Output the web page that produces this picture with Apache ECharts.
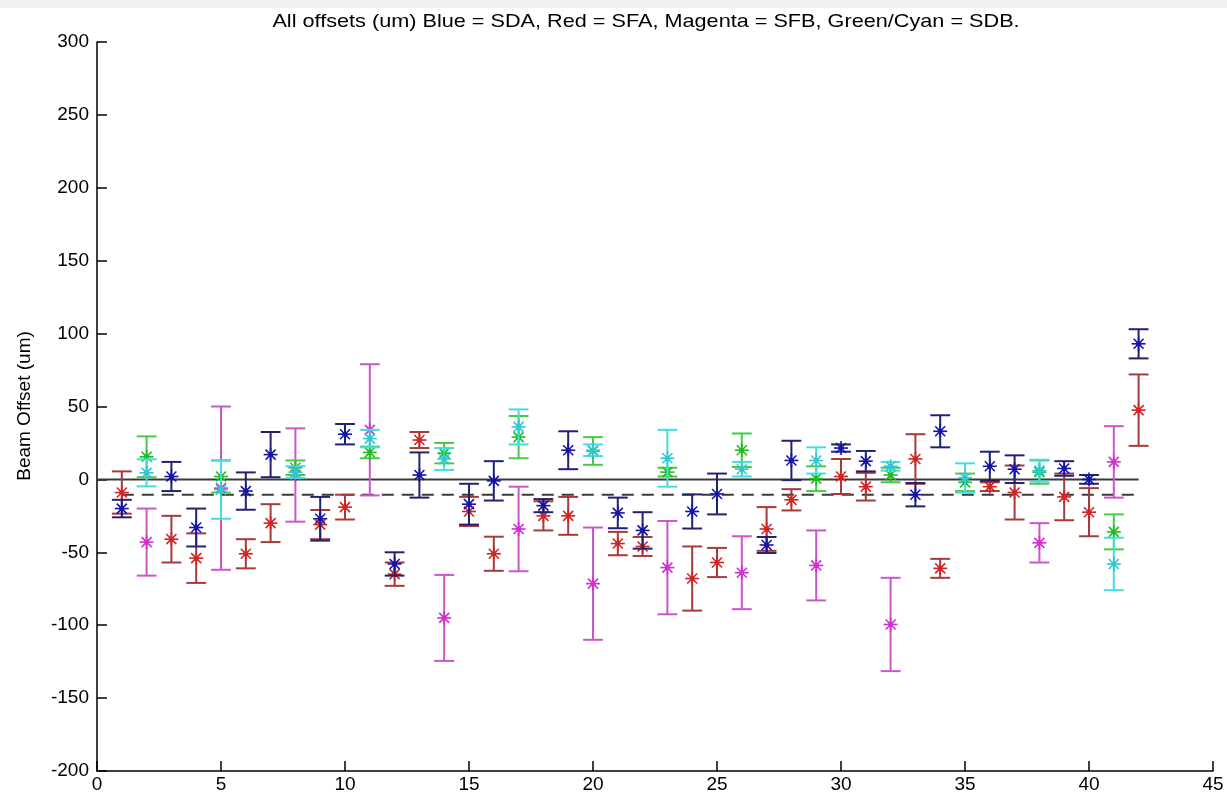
<!DOCTYPE html>
<html>
<head>
<meta charset="utf-8">
<script src="https://cdn.jsdelivr.net/npm/echarts@6/dist/echarts.min.js"></script>
<style>
html,body{margin:0;padding:0;background:#fff;}
#c{width:1227px;height:796px;}
</style>
</head>
<body>
<div id="c"></div>
<script>
// [bar number, offset (um), error (um)]
const sdaBlue = [
  [1,-20,6],[3,2,10],[4,-33,13],[6,-8,12.8],[7,17,15.5],[9,-27,15],[10,31,7],
  [12,-58,8],[13,3,15.5],[15,-17,14],[16,-1,13.5],[18,-18,4.5],[19,20,13],
  [21,-23,10.5],[22,-35,12.5],[24,-22,11.7],[25,-10,14],[27,-45,5.5],[28,13,13.5],
  [30,21.5,2.5],[31,12.5,7],[33,-10.5,8],[34,33,11],[36,9,10],[37,7,9.5],
  [39,7.5,5],[40,0,3],[42,93,10]
];
const sfaRed = [
  [1,-9,14.5],[3,-41,16],[4,-54,17],[6,-51,10],[7,-30,13],[9,-31,10],[10,-19,8.5],
  [12,-65,8],[13,27,5.5],[15,-22,10],[16,-51,11.7],[18,-25,10],[19,-25,13],
  [21,-44,8],[22,-46,6.5],[24,-68,22],[25,-57,10],[27,-34,15],[28,-14,7.3],
  [30,2,12],[31,-5,9.5],[33,14,17],[34,-61,6.5],[36,-5,3],[37,-9,18.5],
  [39,-12,16],[40,-22.5,16.5],[42,47.5,24.5]
];
const sfbMagenta = [
  [2,-43,23],[5,-6,56],[8,3,32],[11,34,45],[14,-95,29.5],[17,-34,29],[20,-71.5,38.5],
  [23,-60.5,32],[26,-64,25],[29,-59,24],[32,-99.5,32],[38,-43.5,13.5],[41,12,24.5]
];
const sdbGreen = [
  [2,15.5,14],[5,2,11],[8,8,5],[11,18.5,4],[14,18,7],[17,29,14.5],[20,19.5,9.5],
  [23,5,3],[26,20,11.5],[29,0.5,8.5],[32,3,5],[35,-2,6],[38,5,8],[41,-36,12]
];
const sdbCyan = [
  [2,4.5,9.3],[5,-7,20],[8,5,4],[11,28,6],[14,14,7.5],[17,36,12],[20,20,4],
  [23,14.5,19.5],[26,7,5],[29,13,9],[32,9,3],[35,1,10],[38,6,7.5],[41,-58,18]
];
const zeroLine = [[0,0],[42,0]];
const meanLine = [[1,-10.5],[42,-10.5]];
const xTicks = [0,5,10,15,20,25,30,35,40,45];
const yTicks = [-200,-150,-100,-50,0,50,100,150,200,250,300];
const titleText = 'All offsets (um) Blue = SDA, Red = SFA, Magenta = SFB, Green/Cyan = SDB.';
const yLabel = 'Beam Offset (um)';

const FONT = '"Liberation Sans", Arial, sans-serif';

function errSeries(name, data, barColor, markColor) {
  return {
    type: 'custom',
    name: name,
    data: data,
    encode: { x: 0, y: 1 },
    renderItem: function (params, api) {
      const x = api.value(0), y = api.value(1), e = api.value(2);
      const c = api.coord([x, y]);
      const t = api.coord([x, y + e]);
      const b = api.coord([x, y - e]);
      const hw = api.size([0.8, 0])[0] / 2;
      const s = 7, d = 5;
      const bs = { stroke: barColor, lineWidth: 2 };
      const ms = { stroke: markColor, lineWidth: 1.6 };
      return {
        type: 'group',
        children: [
          { type: 'line', shape: { x1: t[0], y1: t[1], x2: b[0], y2: b[1] }, style: bs },
          { type: 'line', shape: { x1: t[0] - hw, y1: t[1], x2: t[0] + hw, y2: t[1] }, style: bs },
          { type: 'line', shape: { x1: b[0] - hw, y1: b[1], x2: b[0] + hw, y2: b[1] }, style: bs },
          { type: 'line', shape: { x1: c[0] - s, y1: c[1], x2: c[0] + s, y2: c[1] }, style: ms },
          { type: 'line', shape: { x1: c[0], y1: c[1] - s, x2: c[0], y2: c[1] + s }, style: ms },
          { type: 'line', shape: { x1: c[0] - d, y1: c[1] - d, x2: c[0] + d, y2: c[1] + d }, style: ms },
          { type: 'line', shape: { x1: c[0] - d, y1: c[1] + d, x2: c[0] + d, y2: c[1] - d }, style: ms },
          { type: 'circle', shape: { cx: c[0], cy: c[1], r: 2.5 }, style: { fill: markColor } }
        ]
      };
    },
    z: 3
  };
}

const chart = echarts.init(document.getElementById('c'), null, { renderer: 'canvas' });
chart.setOption({
  backgroundColor: '#ffffff',
  animation: false,
  grid: { left: 97, right: 14, top: 42, bottom: 25 },
  xAxis: {
    type: 'value', min: 0, max: 45, interval: 5,
    axisLine: { show: true, onZero: false, lineStyle: { color: '#000', width: 1.5 } },
    axisTick: { show: true, inside: true, length: 10, lineStyle: { color: '#000', width: 1.5 } },
    axisLabel: { color: '#000', fontFamily: FONT, fontSize: 19, margin: 4,
      formatter: function (v) { return xTicks.indexOf(v) >= 0 ? String(v) : ''; } },
    splitLine: { show: false }
  },
  yAxis: {
    type: 'value', min: -200, max: 300, interval: 50,
    axisLine: { show: true, onZero: false, lineStyle: { color: '#000', width: 1.5 } },
    axisTick: { show: true, inside: true, length: 10, lineStyle: { color: '#000', width: 1.5 } },
    axisLabel: { color: '#000', fontFamily: FONT, fontSize: 19, margin: 8,
      formatter: function (v) { return yTicks.indexOf(v) >= 0 ? String(v) : ''; } },
    splitLine: { show: false }
  },
  graphic: [
    { type: 'rect', shape: { x: 0, y: 0, width: 1227, height: 8 }, style: { fill: '#f0f0f0' }, z: -10 },
    { type: 'text', x: 646, y: 22, scaleX: 1.14, style: { text: titleText, font: '19px ' + FONT, fill: '#000', textAlign: 'center', textVerticalAlign: 'middle' } },
    { type: 'text', x: 25, y: 406, rotation: Math.PI / 2, style: { text: yLabel, font: '19px ' + FONT, fill: '#000', textAlign: 'center', textVerticalAlign: 'middle' } }
  ],
  series: [
    { type: 'line', data: zeroLine, symbol: 'none', lineStyle: { color: '#3a3a3a', width: 2 }, z: 1, silent: true },
    { type: 'line', data: meanLine, symbol: 'none', lineStyle: { color: '#3a3a3a', width: 2, type: [12, 8] }, z: 1, silent: true },
    errSeries('SFB', sfbMagenta, '#cc55cc', '#d030d0'),
    errSeries('SDB green', sdbGreen, '#44cc44', '#22bb22'),
    errSeries('SDB cyan', sdbCyan, '#44dddd', '#30c8d0'),
    errSeries('SFA', sfaRed, '#a83a3a', '#d02525'),
    errSeries('SDA', sdaBlue, '#222270', '#1515a5')
  ]
});
</script>
</body>
</html>
